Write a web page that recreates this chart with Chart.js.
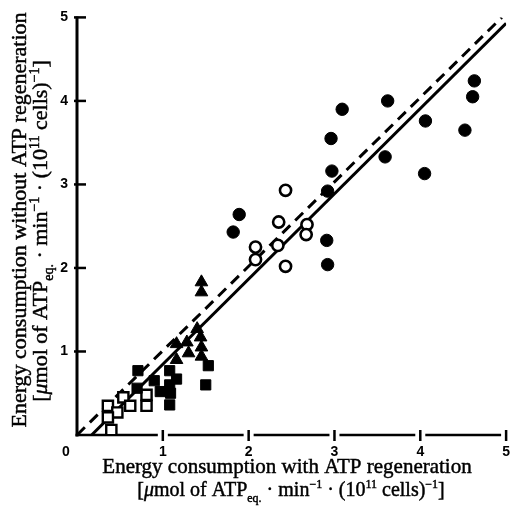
<!DOCTYPE html>
<html>
<head>
<meta charset="utf-8">
<script src="https://cdn.jsdelivr.net/npm/chart.js@4.4.1/dist/chart.umd.min.js"></script>
<style>
  html, body { margin: 0; padding: 0; background: #fff; }
  #wrap { width: 519px; height: 509px; }
</style>
</head>
<body>
<div id="wrap"><canvas id="myChart" width="519" height="509"></canvas></div>
<script>
// tick values shared by both axes
const tickValues = [0, 1, 2, 3, 4, 5];

// filled circles
const fcX = [4.63, 4.61, 3.62, 3.09, 4.06, 2.96, 4.52, 3.59, 2.97, 4.05, 2.92, 1.89, 1.82, 2.91, 2.92];
const fcY = [4.24, 4.05, 4.00, 3.90, 3.76, 3.55, 3.65, 3.33, 3.16, 3.13, 2.92, 2.64, 2.43, 2.33, 2.04];

// open circles
const ocX = [2.43, 2.35, 2.68, 2.67, 2.34, 2.08, 2.08, 2.43];
const ocY = [2.93, 2.55, 2.52, 2.40, 2.27, 2.25, 2.10, 2.02];

// filled triangles
const trX = [1.45, 1.45, 1.40, 1.44, 1.45, 1.45, 1.28, 1.16, 1.30, 1.16];
const trY = [1.83, 1.71, 1.27, 1.17, 1.05, 0.94, 1.11, 1.09, 0.98, 0.90];

// filled squares
const fsX = [1.53, 1.50, 0.71, 0.90, 1.08, 1.16, 0.70, 0.97, 1.08, 1.09, 1.08];
const fsY = [0.83, 0.60, 0.77, 0.65, 0.77, 0.67, 0.56, 0.52, 0.60, 0.50, 0.36];

// open squares
const osX = [0.36, 0.54, 0.47, 0.62, 0.81, 0.81, 0.36, 0.40];
const osY = [0.35, 0.45, 0.27, 0.35, 0.48, 0.35, 0.21, 0.06];

// fitted lines (end points)
const solidX = [0.17, 5.0];
const solidY = [0, 4.93];
const dashX = [0, 4.95];
const dashY = [0, 5.0];

const xTitle1 = 'Energy consumption with ATP regeneration';
const yTitle1 = 'Energy consumption without ATP regeneration';
// unit line: [text, kind] kind: n normal, i italic, sub, sup
const unitLine = [
    ['[', 'n'], ['\u03bc', 'i'], ['mol of ATP', 'n'], ['eq.', 'sub'],
    [' \u00b7 min', 'n'], ['\u22121', 'sup'], [' \u00b7 (10', 'n'], ['11', 'sup'],
    [' cells)', 'n'], ['\u22121', 'sup'], [']', 'n']
];

const pts = (xs, ys) => xs.map((x, i) => ({x: x, y: ys[i]}));

const serif = '"Liberation Serif", "DejaVu Serif", serif';
const sans = '"Liberation Sans", Arial, sans-serif';

function fontFor(kind, size) {
    if (kind === 'sub' || kind === 'sup') return Math.round(size * 0.62) + 'px ' + serif;
    if (kind === 'i') return 'italic ' + size + 'px ' + serif;
    return size + 'px ' + serif;
}

// draws a line of text centred on the origin, with sub/superscripts
function drawRich(ctx, segs, size) {
    let total = 0;
    segs.forEach(s => { ctx.font = fontFor(s[1], size); total += ctx.measureText(s[0]).width; });
    let x = -total / 2;
    ctx.textAlign = 'left';
    ctx.textBaseline = 'alphabetic';
    ctx.strokeStyle = '#000';
    ctx.lineWidth = 0.45;
    segs.forEach(s => {
        ctx.font = fontFor(s[1], size);
        let dy = 0;
        if (s[1] === 'sub') dy = size * 0.28;
        if (s[1] === 'sup') dy = -size * 0.38;
        ctx.fillText(s[0], x, dy);
        ctx.strokeText(s[0], x, dy);
        x += ctx.measureText(s[0]).width;
    });
}

const axesPlugin = {
    id: 'bookAxes',
    beforeDatasetsDraw(chart) {
        const ctx = chart.ctx;
        const xs = chart.scales.x, ys = chart.scales.y;
        const x0 = xs.getPixelForValue(0), y0 = ys.getPixelForValue(0);
        ctx.save();
        ctx.strokeStyle = '#000';
        ctx.lineCap = 'butt';
        // y axis
        ctx.lineWidth = 3;
        ctx.beginPath();
        ctx.moveTo(x0, y0 + 1.5);
        ctx.lineTo(x0, ys.getPixelForValue(5) - 1);
        ctx.stroke();
        tickValues.slice(1).forEach(v => {
            const py = ys.getPixelForValue(v);
            ctx.lineWidth = 2.5;
            ctx.beginPath();
            ctx.moveTo(x0 - 3, py);
            ctx.lineTo(x0 + 9, py);
            ctx.stroke();
        });
        // x axis, broken around each tick
        let prev = x0 - 1.5;
        tickValues.slice(1).forEach(v => {
            const px = xs.getPixelForValue(v);
            ctx.lineWidth = 2.5;
            ctx.beginPath();
            ctx.moveTo(prev, y0);
            ctx.lineTo(px - 5, y0);
            ctx.stroke();
            ctx.beginPath();
            ctx.moveTo(px, y0 - 5);
            ctx.lineTo(px, y0 + 6);
            ctx.stroke();
            prev = px + 5;
        });
        ctx.restore();
    },
    afterDraw(chart) {
        const ctx = chart.ctx;
        const xs = chart.scales.x, ys = chart.scales.y;
        ctx.save();
        ctx.fillStyle = '#000';
        // shared origin label
        ctx.font = 'bold 14px ' + sans;
        ctx.textAlign = 'center';
        ctx.textBaseline = 'middle';
        ctx.fillText(String(tickValues[0]), xs.getPixelForValue(0) - 11, ys.getPixelForValue(0) + 17);
        // x title
        ctx.save();
        ctx.translate(287, 473);
        drawRich(ctx, [[xTitle1, 'n']], 21);
        ctx.restore();
        ctx.save();
        ctx.translate(291, 496);
        drawRich(ctx, unitLine, 20);
        ctx.restore();
        // y title
        ctx.save();
        ctx.translate(26, 220);
        ctx.rotate(-Math.PI / 2);
        drawRich(ctx, [[yTitle1, 'n']], 22);
        ctx.restore();
        ctx.save();
        ctx.translate(47, 231);
        ctx.rotate(-Math.PI / 2);
        drawRich(ctx, unitLine, 22);
        ctx.restore();
        ctx.restore();
    }
};

const data = {
    datasets: [
        {
            label: 'filled circles',
            data: pts(fcX, fcY),
            pointStyle: 'circle',
            pointRadius: 6.2,
            backgroundColor: '#000',
            borderColor: '#000',
            borderWidth: 1,
            order: 1
        },
        {
            label: 'open circles',
            data: pts(ocX, ocY),
            pointStyle: 'circle',
            pointRadius: 5.6,
            backgroundColor: '#fff',
            borderColor: '#000',
            borderWidth: 2.6,
            order: 1
        },
        {
            label: 'triangles',
            data: pts(trX, trY),
            pointStyle: 'triangle',
            pointRadius: 7.3,
            backgroundColor: '#000',
            borderColor: '#000',
            borderWidth: 1,
            order: 1
        },
        {
            label: 'filled squares',
            data: pts(fsX, fsY),
            pointStyle: 'rect',
            pointRadius: 7.2,
            backgroundColor: '#000',
            borderColor: '#000',
            borderWidth: 1,
            order: 1
        },
        {
            label: 'open squares',
            data: pts(osX, osY),
            pointStyle: 'rect',
            pointRadius: 7.2,
            backgroundColor: '#fff',
            borderColor: '#000',
            borderWidth: 2.4,
            order: 1
        },
        {
            type: 'line',
            label: 'with regeneration fit',
            data: pts(solidX, solidY),
            borderColor: '#000',
            borderWidth: 3,
            pointRadius: 0,
            fill: false,
            order: 5
        },
        {
            type: 'line',
            label: 'identity',
            data: pts(dashX, dashY),
            borderColor: '#000',
            borderWidth: 3,
            borderDash: [11, 7],
            pointRadius: 0,
            fill: false,
            order: 5
        }
    ]
};

const axisOpts = {
    type: 'linear',
    min: 0,
    max: 5,
    grid: {display: false, drawTicks: false},
    border: {display: false},
    afterBuildTicks: (scale) => { scale.ticks = tickValues.map(v => ({value: v})); },
    ticks: {
        color: '#000',
        font: {family: sans, size: 14, weight: 'bold'},
        callback: (v) => v === 0 ? '' : String(v)
    }
};

const config = {
    type: 'scatter',
    data: data,
    options: {
        responsive: false,
        animation: false,
        layout: {padding: {top: 15, right: 6, left: 0, bottom: 0}},
        plugins: {
            legend: {display: false},
            tooltip: {enabled: false}
        },
        scales: {
            x: Object.assign({}, axisOpts, {
                ticks: Object.assign({}, axisOpts.ticks, {padding: 9, maxRotation: 0}),
                afterFit: (scale) => { scale.height = 74; }
            }),
            y: Object.assign({}, axisOpts, {
                ticks: Object.assign({}, axisOpts.ticks, {padding: 9}),
                afterFit: (scale) => { scale.width = 77; }
            })
        }
    },
    plugins: [axesPlugin]
};

const myChart = new Chart(
    document.getElementById('myChart'),
    config
);
</script>
</body>
</html>
